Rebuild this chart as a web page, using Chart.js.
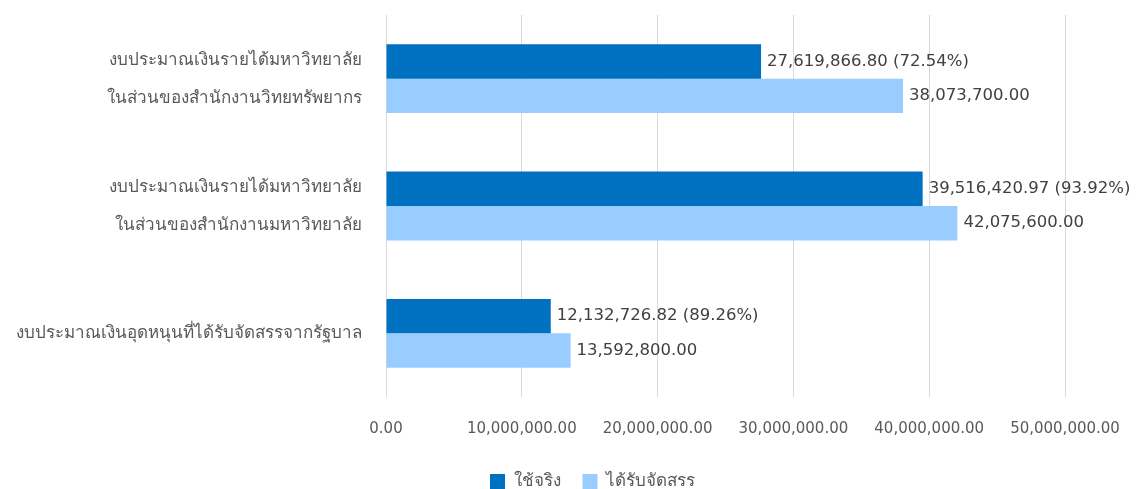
<!DOCTYPE html>
<html>
<head>
<meta charset="utf-8">
<script src="https://cdn.jsdelivr.net/npm/chart.js@4.4.0/dist/chart.umd.min.js"></script>
<style>
html,body{margin:0;padding:0;background:#fff;}
#wrap{width:1136px;height:489px;position:relative;}
</style>
</head>
<body>
<div id="wrap"><canvas id="c"></canvas></div>
<script>
const categories = [
  ["งบประมาณเงินรายได้มหาวิทยาลัย", "ในส่วนของสำนักงานวิทยทรัพยากร"],
  ["งบประมาณเงินรายได้มหาวิทยาลัย", "ในส่วนของสำนักงานมหาวิทยาลัย"],
  ["งบประมาณเงินอุดหนุนที่ได้รับจัดสรรจากรัฐบาล"]
];
const seriesNames = ["ใช้จริง", "ได้รับจัดสรร"];
const actual = [27619866.80, 39516420.97, 12132726.82];
const allocated = [38073700.00, 42075600.00, 13592800.00];
const actualPct = ["72.54%", "93.92%", "89.26%"];
const xTicks = [0, 10000000, 20000000, 30000000, 40000000, 50000000];

const THAI_FONT = "'Noto Sans', 'DejaVu Sans', sans-serif";
const NUM_FONT = "'DejaVu Sans', sans-serif";
const fmt = v => v.toLocaleString('en-US', {minimumFractionDigits: 2, maximumFractionDigits: 2});

const labelPlugin = {
  id: 'barLabels',
  afterDatasetsDraw(chart) {
    const ctx = chart.ctx;
    ctx.save();
    ctx.font = "16.5px " + NUM_FONT;
    ctx.fillStyle = '#404040';
    ctx.textAlign = 'left';
    ctx.textBaseline = 'middle';
    chart.data.datasets.forEach((ds, di) => {
      const meta = chart.getDatasetMeta(di);
      meta.data.forEach((bar, i) => {
        let txt = fmt(ds.data[i]);
        if (di === 0) txt += ' (' + actualPct[i] + ')';
        ctx.fillText(txt, bar.x + 6, bar.y);
      });
    });
    ctx.restore();
  }
};

const legendShift = {
  id: 'legendShift',
  afterLayout(chart) {
    const lg = chart.legend;
    if (!lg) return;
    lg.left += 60; lg.right += 60;
    lg.top += 11; lg.bottom += 11;
  }
};

new Chart(document.getElementById('c'), {
  type: 'bar',
  data: {
    labels: categories,
    datasets: [
      {label: seriesNames[0], data: actual, backgroundColor: '#0070C0', categoryPercentage: 0.54, barPercentage: 1.0},
      {label: seriesNames[1], data: allocated, backgroundColor: '#99CCFF', categoryPercentage: 0.54, barPercentage: 1.0}
    ]
  },
  options: {
    indexAxis: 'y',
    responsive: true,
    maintainAspectRatio: false,
    animation: false,
    layout: {padding: {top: 15, right: 71, left: 0, bottom: 0}},
    plugins: {
      legend: {
        position: 'bottom',
        labels: {
          boxWidth: 15, boxHeight: 15, padding: 22,
          color: '#595959',
          font: {family: THAI_FONT, size: 17}
        }
      },
      tooltip: {enabled: false}
    },
    scales: {
      x: {
        min: 0, max: 50000000,
        afterBuildTicks(scale) { scale.ticks = xTicks.map(v => ({value: v})); },
        afterFit(scale) { scale.height = 43; scale.paddingLeft = 0; scale.paddingRight = 0; },
        grid: {color: '#d9d9d9', drawTicks: false},
        border: {display: false},
        ticks: {
          color: '#595959',
          padding: 23,
          maxRotation: 0,
          font: {family: NUM_FONT, size: 15},
          callback: v => fmt(v)
        }
      },
      y: {
        grid: {display: false},
        border: {display: false},
        afterFit(scale) { scale.width = 386; scale.paddingTop = 0; scale.paddingBottom = 0; },
        ticks: {
          color: '#595959',
          padding: 16,
          font: {family: THAI_FONT, size: 17, lineHeight: 2.235}
        }
      }
    }
  },
  plugins: [labelPlugin, legendShift]
});
</script>
</body>
</html>
